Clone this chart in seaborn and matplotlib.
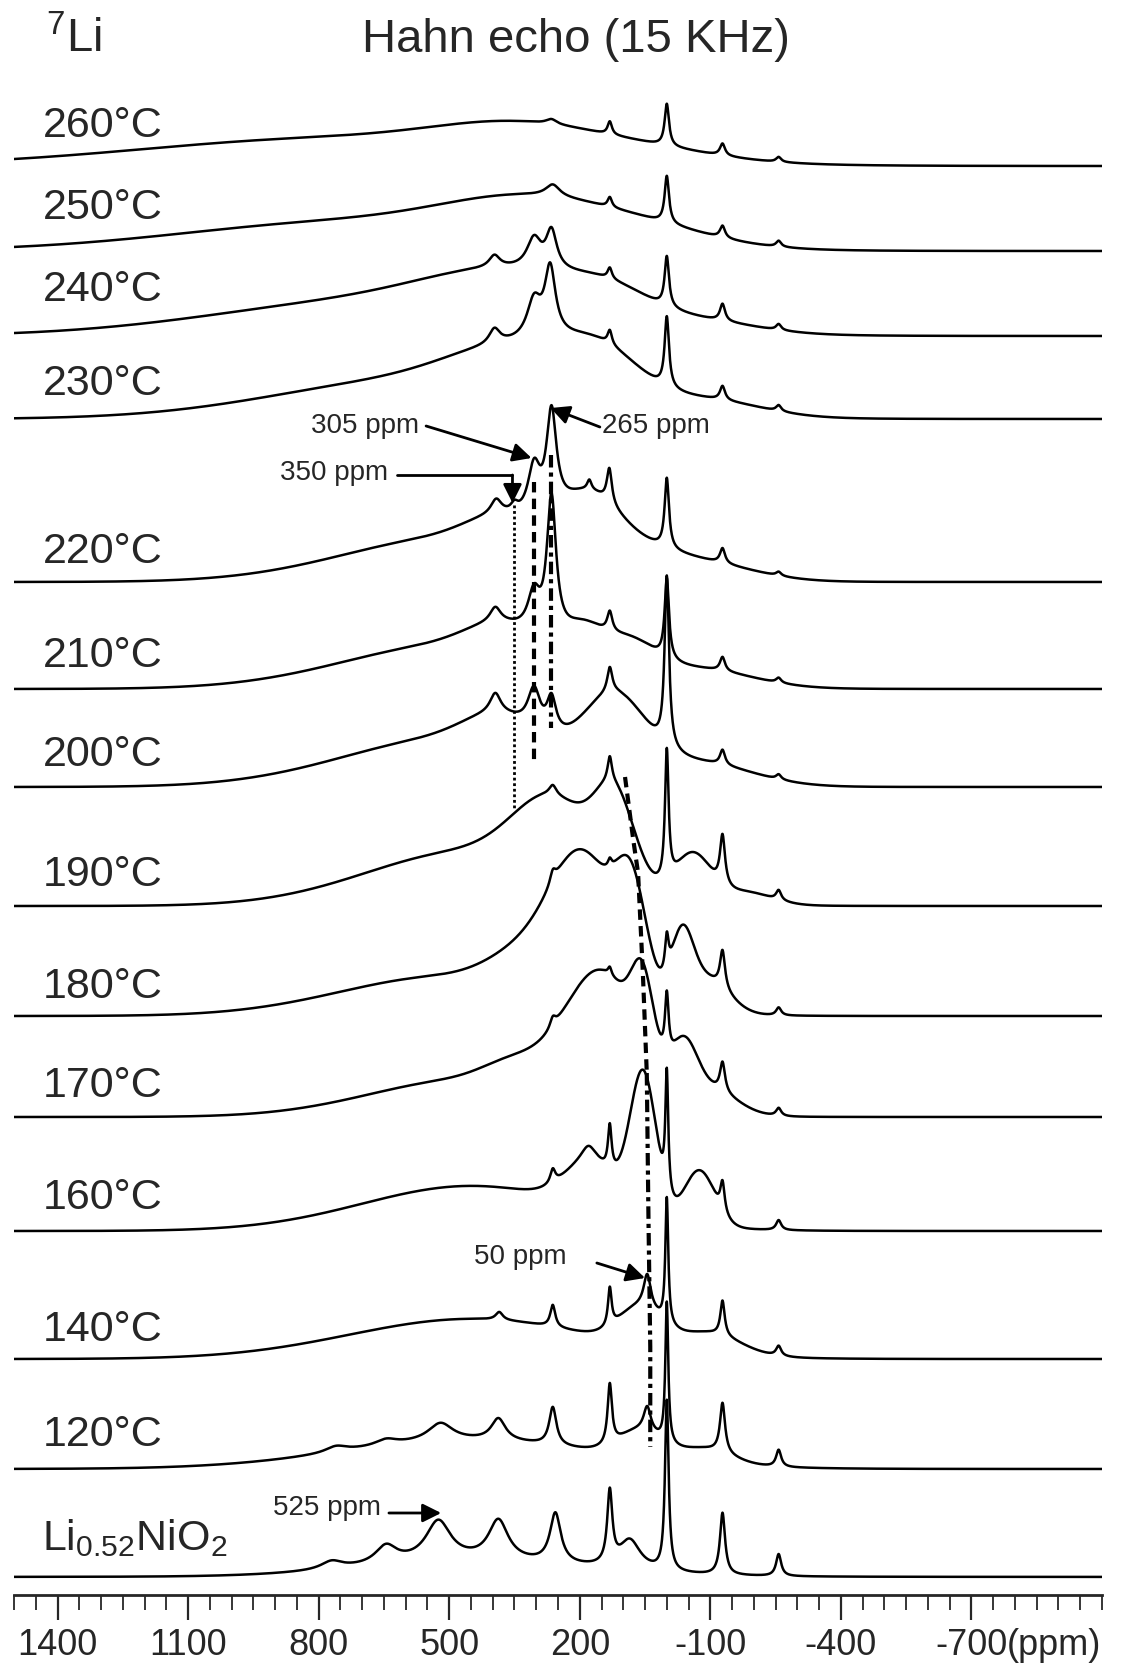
import numpy as np
import pandas as pd
import seaborn as sns
import matplotlib.pyplot as plt
from matplotlib.ticker import FixedLocator

# traces, top to bottom
labels = ['260°C', '250°C', '240°C', '230°C', '220°C', '210°C', '200°C', '190°C',
          '180°C', '170°C', '160°C', '140°C', '120°C', 'Li$_{0.52}$NiO$_2$']
baseline_px = [166, 251, 336, 419, 582, 689, 787, 906, 1016, 1117, 1231, 1359, 1469, 1577]
label_px = [126, 208, 290, 384, 552, 656, 755, 875, 987, 1086, 1198, 1330, 1435, 1538]

# broad components: (ppm, height, sigma)
broad = [
    [(750, 28, 450), (320, 26, 200), (0, 6, 150)],
    [(700, 30, 400), (300, 36, 200), (20, 10, 150)],
    [(650, 36, 380), (340, 40, 200), (130, 18, 90), (-100, 8, 120)],
    [(560, 40, 330), (340, 40, 150), (150, 40, 90), (-100, 14, 120)],
    [(480, 45, 260), (380, 22, 80), (180, 58, 70), (60, 14, 80), (-80, 16, 120)],
    [(480, 45, 260), (380, 22, 80), (195, 30, 45), (90, 30, 60), (-80, 16, 120)],
    [(480, 50, 260), (385, 25, 80), (120, 70, 70), (-80, 20, 120)],
    [(450, 55, 240), (260, 70, 90), (118, 80, 45), (-60, 45, 40), (-180, 12, 60)],
    [(500, 40, 250), (330, 30, 80), (190, 140, 75), (80, 95, 35), (-35, 65, 25), (-90, 35, 50)],
    [(450, 38, 230), (350, 20, 70), (150, 130, 85), (55, 75, 25), (-40, 50, 30), (-100, 25, 60)],
    [(450, 45, 250), (170, 45, 60), (54, 140, 30), (-75, 55, 35)],
    [(450, 40, 280), (60, 35, 50), (-100, 20, 70)],
    [(450, 28, 300), (60, 25, 50), (-90, 14, 60)],
    [(450, 15, 250)],
]

# sharp lines: (ppm, height, fwhm)
sharp = [
    [(265, 5, 30), (131, 13, 12), (0, 42, 12), (-128, 12, 14), (-257, 5, 14)],
    [(262, 12, 40), (131, 10, 12), (0, 47, 12), (-128, 12, 14), (-257, 6, 14)],
    [(396, 12, 30), (305, 30, 40), (265, 38, 30), (131, 11, 12), (0, 50, 12), (-128, 17, 14), (-257, 6, 14)],
    [(396, 15, 30), (305, 38, 40), (268, 68, 30), (131, 14, 12), (0, 70, 12), (-128, 14, 14), (-257, 6, 14)],
    [(392, 15, 30), (350, 8, 20), (305, 50, 35), (265, 100, 28), (178, 10, 12), (132, 35, 14),
     (0, 70, 12), (-128, 15, 14), (-257, 4, 14)],
    [(394, 15, 30), (305, 40, 35), (265, 140, 26), (131, 20, 14), (0, 80, 12), (-128, 14, 14), (-257, 5, 14)],
    [(394, 20, 30), (305, 40, 35), (265, 35, 26), (131, 25, 14), (0, 170, 12), (-128, 15, 14), (-257, 5, 14)],
    [(262, 10, 20), (131, 25, 12), (0, 130, 10), (-128, 50, 14), (-257, 10, 14)],
    [(262, 12, 16), (131, 8, 10), (0, 35, 10), (-128, 38, 14), (-257, 8, 14)],
    [(262, 10, 16), (131, 8, 10), (0, 60, 10), (-128, 30, 14), (-257, 8, 14)],
    [(262, 14, 14), (180, 15, 40), (131, 44, 10), (0, 120, 8), (-128, 30, 12), (-257, 10, 14)],
    [(385, 8, 20), (262, 22, 14), (131, 38, 10), (45, 34, 20), (0, 125, 8), (-128, 35, 12), (-257, 10, 14)],
    [(760, 6, 60), (645, 6, 60), (520, 18, 70), (387, 22, 40), (262, 38, 20), (131, 60, 12),
     (45, 25, 20), (0, 140, 8), (-128, 50, 14), (-257, 17, 14)],
    [(770, 8, 60), (645, 18, 60), (525, 40, 70), (387, 40, 55), (256, 50, 30), (131, 72, 14),
     (85, 30, 60), (0, 170, 10), (-128, 62, 14), (-257, 22, 14)],
]

major_ticks = [1400, 1100, 800, 500, 200, -100, -400, -700]

AX_BOTTOM = 1595  # pixel row of the x axis


def px2ppm(px):
    return 500 - (px - 450) / 0.4333


def ypx(p):
    return AX_BOTTOM - p


ppm = np.linspace(1500, -1000, 5001)
frames = []
for i, lab in enumerate(labels):
    y = np.zeros_like(ppm)
    for c, h, s in broad[i]:
        y += h * np.exp(-(ppm - c) ** 2 / (2 * s ** 2))
    for c, h, w in sharp[i]:
        y += h / (1 + ((ppm - c) / (w / 2)) ** 2)
    frames.append(pd.DataFrame({'ppm': ppm, 'y': y + ypx(baseline_px[i]), 'trace': i}))
df = pd.concat(frames, ignore_index=True)

sns.set_style('white')
plt.rcParams['font.family'] = ['Liberation Sans', 'DejaVu Sans']
plt.rcParams['mathtext.fontset'] = 'custom'
plt.rcParams['mathtext.rm'] = 'Liberation Sans'
plt.rcParams['mathtext.it'] = 'Liberation Sans:italic'
plt.rcParams['axes.unicode_minus'] = False

fig = plt.figure(figsize=(11.33, 16.73), dpi=100)
ax = fig.add_axes([14 / 1133, 78 / 1673, 1088 / 1133, 1595 / 1673])
sns.lineplot(data=df, x='ppm', y='y', units='trace', estimator=None, sort=False,
             color='black', lw=1.8, ax=ax)
ax.set_xlim(1500, -1000)
ax.set_ylim(0, 1595)

for s in ['top', 'left', 'right']:
    ax.spines[s].set_visible(False)
ax.spines['bottom'].set_linewidth(2)
ax.set_yticks([])
ax.xaxis.set_major_locator(FixedLocator(major_ticks))
ax.xaxis.set_minor_locator(FixedLocator(np.arange(-1000, 1501, 50)))
ax.tick_params(axis='x', which='major', direction='out', length=18, width=1.6,
               labelsize=26, pad=6, bottom=True)
ax.tick_params(axis='x', which='minor', direction='out', length=11, width=1.3, bottom=True)
ax.set_xlabel('')
ax.set_ylabel('')
ax.annotate('(ppm)', xy=(px2ppm(1005), 0), xycoords=('data', 'axes fraction'),
            xytext=(0, -24), textcoords='offset points', ha='left', va='top', fontsize=26)

for i, lab in enumerate(labels):
    ax.text(px2ppm(45), ypx(label_px[i]), lab, fontsize=31, ha='left', va='center')

fig.text(576 / 1133, 1 - 40 / 1673, 'Hahn echo (15 KHz)', fontsize=34, ha='center', va='center')
fig.text(46 / 1133, 1 - 40 / 1673, '$^{7}$Li', fontsize=34, ha='left', va='center')

# guide lines
ax.plot([350, 350], [ypx(505), ypx(810)], color='k', lw=2, ls=(0, (1, 1)))
ax.plot([305, 305], [ypx(482), ypx(763)], color='k', lw=3, ls=(0, (2.5, 1.5)))
ax.plot([265, 265], [ypx(455), ypx(728)], color='k', lw=3, ls=(0, (3, 1.2, 1, 1.2)))
ax.plot([96, 77, 66, 55, 46], [ypx(p) for p in [777, 840, 873, 973, 1073]],
        color='k', lw=3, ls=(0, (2.5, 1.5)))
ax.plot([46, 42, 38, 38], [ypx(p) for p in [1073, 1223, 1347, 1447]],
        color='k', lw=3, ls=(0, (3, 1.2, 1, 1.2)))

arrow = dict(arrowstyle='-|>', lw=2, color='k', mutation_scale=28, shrinkA=0, shrinkB=0)
ax.text(px2ppm(420), ypx(426), '305 ppm', fontsize=20, ha='right', va='center')
ax.annotate('', xy=(px2ppm(532), ypx(458)), xytext=(px2ppm(427), ypx(426)), arrowprops=arrow)
ax.text(px2ppm(602), ypx(426), '265 ppm', fontsize=20, ha='left', va='center')
ax.annotate('', xy=(px2ppm(551), ypx(408)), xytext=(px2ppm(600), ypx(427)), arrowprops=arrow)
ax.text(px2ppm(389), ypx(473), '350 ppm', fontsize=20, ha='right', va='center')
ax.plot([px2ppm(398), px2ppm(513)], [ypx(475), ypx(475)], color='k', lw=2)
ax.annotate('', xy=(px2ppm(513), ypx(503)), xytext=(px2ppm(513), ypx(475)), arrowprops=arrow)
ax.text(px2ppm(567), ypx(1257), '50 ppm', fontsize=20, ha='right', va='center')
ax.annotate('', xy=(px2ppm(645), ypx(1278)), xytext=(px2ppm(597), ypx(1263)), arrowprops=arrow)
ax.text(px2ppm(382), ypx(1508), '525 ppm', fontsize=20, ha='right', va='center')
ax.annotate('', xy=(px2ppm(442), ypx(1513)), xytext=(px2ppm(390), ypx(1513)), arrowprops=arrow)

fig.savefig('out.png', dpi=100, facecolor='white')
